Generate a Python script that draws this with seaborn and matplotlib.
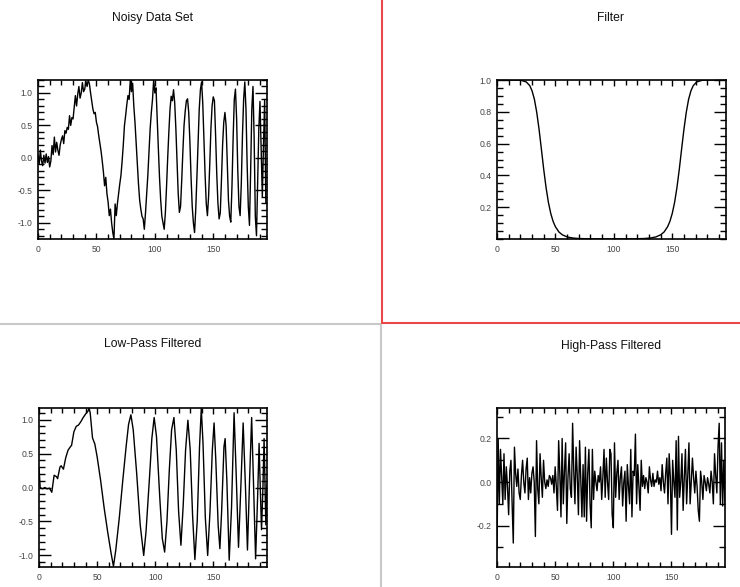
import matplotlib
matplotlib.use("Agg")
import matplotlib.pyplot as plt
import seaborn as sns
import pandas as pd
from matplotlib.lines import Line2D
from matplotlib.ticker import MultipleLocator, FixedLocator, FormatStrFormatter

# ---------------- data ----------------
sample_index = list(range(197))

noisy_values = [
    0.05, -0.10, 0.12, -0.05, -0.12, 0.04, -0.08, 0.06, -0.07, 0.02,
    -0.14, -0.05, 0.19, 0.05, 0.32, 0.09, 0.24, 0.12, 0.04, 0.20,
    0.28, 0.34, 0.22, 0.42, 0.38, 0.47, 0.44, 0.65, 0.50, 0.62,
    0.60, 0.78, 0.96, 0.80, 0.98, 1.10, 0.92, 1.00, 1.16, 1.02,
    1.06, 1.18, 1.10, 1.20, 1.14, 1.00, 0.88, 0.75, 0.68, 0.70,
    0.55, 0.48, 0.34, 0.22, 0.10, -0.05, -0.22, -0.43, -0.30, -0.55,
    -0.68, -0.89, -0.79, -1.00, -1.15, -1.25, -0.71, -0.89, -0.70, -0.55,
    -0.40, -0.27, -0.05, 0.20, 0.50, 0.65, 0.82, 0.96, 0.90, 1.20,
    1.02, 1.15, 0.80, 0.55, 0.24, -0.05, -0.40, -0.65, -0.79, -0.90,
    -0.94, -1.10, -0.85, -0.55, -0.27, 0.10, 0.45, 0.70, 0.90, 1.20,
    1.00, 1.08, 0.60, 0.15, -0.30, -0.65, -0.90, -1.00, -1.10, -0.85,
    -0.45, 0.00, 0.40, 0.75, 0.95, 0.88, 1.05, 0.85, 0.45, -0.05,
    -0.55, -0.84, -0.75, -0.35, 0.10, 0.50, 0.72, 0.88, 0.91, 0.70,
    0.25, -0.30, -0.75, -1.00, -1.15, -0.80, -0.30, 0.25, 0.75, 1.05,
    1.17, 0.85, 0.30, -0.25, -0.70, -0.89, -0.60, -0.10, 0.45, 0.80,
    0.94, 0.88, 0.35, -0.25, -0.70, -0.94, -0.85, -0.35, 0.20, 0.55,
    0.70, 0.50, -0.10, -0.65, -0.90, -0.99, -0.45, 0.30, 0.90, 1.06,
    0.60, -0.20, -0.75, -0.89, -0.40, 0.35, 0.90, 1.17, 0.75, -0.10,
    -0.75, -1.04, -0.20, 0.75, 1.10, 0.30, -0.90, -1.20, -0.40, 0.45,
    0.87, 0.10, -0.60, 0.20, 0.90, -0.69, -0.70,
]

filter_x = [0, 10, 20, 25, 28, 30, 32, 34, 36, 38, 40, 42, 44, 46, 48, 50, 53, 56,
            60, 65, 70, 80, 98, 116, 126, 131, 136, 140, 143, 146, 148, 150, 152,
            154, 156, 158, 160, 162, 164, 166, 168, 171, 176, 186, 196]
filter_values = [1.0, 1.0, 0.999, 0.988, 0.965, 0.932, 0.879, 0.797, 0.690, 0.565,
                 0.437, 0.323, 0.230, 0.161, 0.111, 0.077, 0.044, 0.026, 0.013,
                 0.006, 0.003, 0.001, 0.0, 0.001, 0.003, 0.006, 0.013, 0.026, 0.044,
                 0.077, 0.111, 0.161, 0.230, 0.323, 0.437, 0.565, 0.690, 0.797,
                 0.879, 0.932, 0.965, 0.988, 0.999, 1.0, 1.0]

lowpass_x = [0, 1, 3, 5, 7, 9, 11, 13, 15, 16, 18, 19, 21, 23, 25, 27, 28, 30, 32,
             34, 36, 38, 40, 42, 43, 44, 46, 48, 50, 53, 56, 59, 62, 64, 66, 69, 72,
             75, 77, 79, 81, 84, 87, 90, 92, 95, 97, 99, 101, 104, 106, 108, 110,
             112, 114, 116, 118, 120, 122, 124, 126, 128, 130, 132, 134, 136, 138,
             139.5, 141, 143, 145, 147, 149, 150.5, 152, 154, 155.5, 157, 159, 160,
             161.5, 163.5, 165.5, 167.7, 169.5, 171.5, 173.5, 175.5, 177.5, 179.2,
             181, 182.8, 184.5, 186.2, 188, 189.2, 190.2, 191.3, 192.5, 193.5, 195, 196]
lowpass_values = [0.30, 0.00, -0.02, 0.00, -0.02, -0.01, -0.07, 0.18, 0.16, 0.13, 0.30,
                  0.32, 0.27, 0.44, 0.55, 0.60, 0.62, 0.82, 0.90, 0.92, 0.97, 1.03, 1.08,
                  1.12, 1.17, 1.10, 0.73, 0.64, 0.45, 0.10, -0.30, -0.65, -0.97, -1.16,
                  -0.92, -0.45, 0.10, 0.62, 0.93, 1.07, 0.85, 0.20, -0.55, -1.00, -0.65,
                  0.15, 0.72, 1.03, 0.75, -0.20, -0.75, -0.95, -0.50, 0.25, 0.85, 1.03,
                  0.55, -0.35, -0.85, -0.25, 0.55, 0.99, 0.55, -0.40, -1.06, -0.50, 0.60,
                  1.16, 0.65, -0.45, -1.00, -0.35, 0.55, 0.95, 0.40, -0.55, -0.90, -0.35,
                  0.60, 0.72, 0.10, -1.07, -0.30, 1.10, 0.20, -0.88, 0.00, 0.95, 0.00,
                  -0.92, 0.10, 1.03, 0.00, -1.05, -0.10, 0.65, 0.00, -0.62, 0.00, 0.72,
                  -0.55, 0.05]

highpass_values = [
    -0.31, 0.20, -0.10, 0.15, 0.02, -0.10, 0.13, -0.08, 0.07, -0.02,
    -0.15, 0.05, 0.10, -0.10, -0.28, 0.16, 0.04, -0.02, 0.06, -0.05,
    -0.08, 0.03, 0.10, 0.00, -0.05, 0.06, 0.11, -0.08, 0.02, -0.05,
    0.04, 0.07, 0.00, -0.25, 0.19, -0.03, -0.10, 0.13, 0.02, -0.07,
    0.10, 0.00, -0.03, 0.01, -0.02, 0.03, 0.02, -0.01, 0.03, -0.05,
    0.07, -0.02, -0.13, 0.19, 0.04, -0.16, 0.20, -0.10, 0.05, 0.18,
    -0.19, 0.02, 0.13, -0.03, -0.07, 0.27, 0.05, -0.10, 0.16, 0.03,
    -0.15, 0.19, 0.02, -0.16, 0.08, -0.16, 0.16, -0.18, 0.04, 0.15,
    -0.10, -0.21, 0.15, -0.08, 0.05, 0.00, -0.04, 0.03, 0.00, 0.07,
    -0.08, 0.02, 0.15, -0.07, 0.11, 0.00, -0.08, 0.15, 0.13, -0.15,
    -0.21, 0.18, -0.07, 0.04, 0.10, -0.08, 0.02, 0.07, -0.11, 0.00,
    0.05, -0.18, 0.08, -0.02, -0.10, 0.15, -0.16, 0.05, 0.03, 0.22,
    -0.10, 0.08, -0.02, -0.13, 0.10, -0.02, 0.03, -0.03, 0.02, 0.00,
    -0.05, 0.07, 0.01, -0.02, 0.04, -0.02, 0.01, 0.00, 0.05, -0.01,
    0.02, -0.04, 0.08, 0.00, -0.05, 0.04, 0.11, -0.10, 0.13, 0.02,
    -0.24, 0.10, 0.00, -0.07, 0.19, -0.22, 0.21, -0.07, 0.00, 0.13,
    -0.13, 0.02, 0.15, -0.10, 0.03, 0.18, -0.10, 0.00, 0.11, 0.02,
    -0.05, 0.05, -0.02, -0.13, -0.18, 0.05, 0.00, -0.08, 0.03, 0.00,
    -0.04, 0.02, -0.01, -0.05, 0.05, 0.00, -0.10, 0.13, 0.03, -0.05,
    0.16, 0.27, -0.10, 0.18, -0.11, 0.10, -0.10,
]

titles = ["Noisy Data Set", "Filter", "Low-Pass Filtered", "High-Pass Filtered"]
x_ticks = [0, 50, 100, 150]

# ---------------- style ----------------
sns.set_theme(style="ticks")
plt.rcParams['font.family'] = ['Liberation Sans', 'DejaVu Sans']
plt.rcParams['axes.unicode_minus'] = False

W, H = 740, 587
fig = plt.figure(figsize=(W / 100, H / 100), dpi=100)
fig.patch.set_facecolor('white')


def add_ax(l, t, r, b):
    return fig.add_axes([l / W, 1 - b / H, (r - l) / W, (b - t) / H])


def style_axes(ax, xlim, ylim, yticks, yminor):
    ax.set_xlim(*xlim)
    ax.set_ylim(*ylim)
    ax.xaxis.set_major_locator(FixedLocator(x_ticks))
    ax.xaxis.set_minor_locator(MultipleLocator(10))
    ax.yaxis.set_major_locator(FixedLocator(yticks))
    ax.yaxis.set_minor_locator(MultipleLocator(yminor))
    ax.yaxis.set_major_formatter(FormatStrFormatter('%.1f'))
    ax.set_xlabel("")
    ax.set_ylabel("")
    for sp in ax.spines.values():
        sp.set_visible(True)
        sp.set_linewidth(1.2)
        sp.set_color('black')
    ax.tick_params(which='both', direction='in', top=True, right=True,
                   color='black', width=1.0, labelsize=6.2, labelcolor='#444444')
    ax.tick_params(axis='y', which='major', length=8.5, pad=4)
    ax.tick_params(axis='y', which='minor', length=4.3)
    ax.tick_params(axis='x', which='major', length=4.5, pad=4.5)
    ax.tick_params(axis='x', which='minor', length=3.5)
    ax.set_facecolor('white')


line_kw = dict(color='black', linewidth=1.0, estimator=None, sort=False, legend=False)

# Noisy data set
ax1 = add_ax(38, 80, 267, 239)
sns.lineplot(data=pd.DataFrame({'x': sample_index, 'y': noisy_values}),
             x='x', y='y', ax=ax1, **line_kw)
style_axes(ax1, (0, 196), (-1.25, 1.2), [-1.0, -0.5, 0.0, 0.5, 1.0], 0.1)

# Filter
ax2 = add_ax(497, 80, 726, 239)
sns.lineplot(data=pd.DataFrame({'x': filter_x, 'y': filter_values}),
             x='x', y='y', ax=ax2, **line_kw)
style_axes(ax2, (0, 196), (0.0, 1.0), [0.2, 0.4, 0.6, 0.8, 1.0], 0.05)

# Low-pass
ax3 = add_ax(39, 408, 267, 567)
sns.lineplot(data=pd.DataFrame({'x': lowpass_x, 'y': lowpass_values}),
             x='x', y='y', ax=ax3, **line_kw)
style_axes(ax3, (0, 196), (-1.17, 1.17), [-1.0, -0.5, 0.0, 0.5, 1.0], 0.1)

# High-pass
ax4 = add_ax(497, 408, 725, 567)
sns.lineplot(data=pd.DataFrame({'x': sample_index, 'y': highpass_values}),
             x='x', y='y', ax=ax4, **line_kw)
style_axes(ax4, (0, 196), (-0.39, 0.34), [-0.2, 0.0, 0.2], 0.1)

# Titles
title_pos = [(152, 18), (611, 18), (153, 344), (611, 346)]
for t, (tx, ty) in zip(titles, title_pos):
    fig.text(tx / W, 1 - ty / H, t, ha='center', va='center', fontsize=8.7, color='#111111')

# Panel separators (gray) and selection frame (red)
gray = '#c8c8c8'
red = '#e8484a'
fig.add_artist(Line2D([0, 381 / W], [1 - 324 / H, 1 - 324 / H], color=gray, lw=1.5))
fig.add_artist(Line2D([381 / W, 381 / W], [1 - 324 / H, 0], color=gray, lw=1.5))
fig.add_artist(Line2D([382 / W, 382 / W], [1, 1 - 323 / H], color=red, lw=1.5))
fig.add_artist(Line2D([382 / W, 1], [1 - 323 / H, 1 - 323 / H], color=red, lw=1.5))

fig.savefig("out.png", dpi=100, facecolor='white')
